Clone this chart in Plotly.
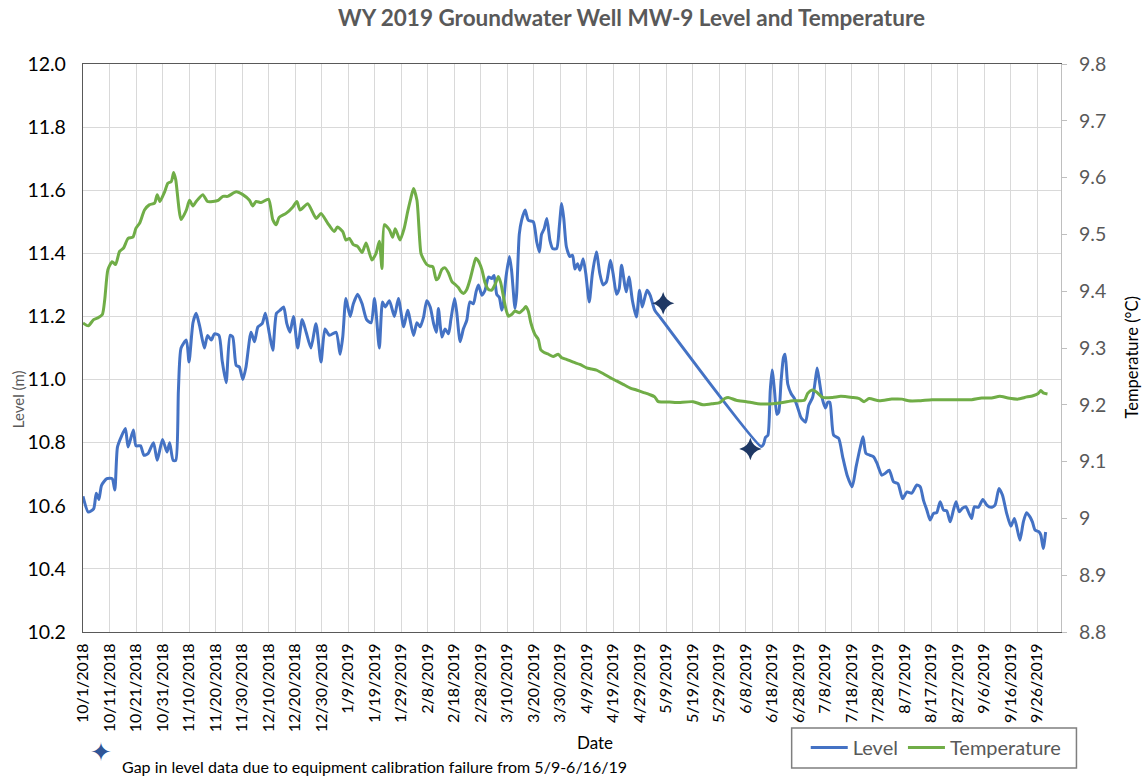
import pandas as pd
import plotly.graph_objects as go

BASE_DATE = "2018-10-01"

# Level (m): days after 10/1/2018 and values
level_days = [0, 2, 4, 5, 6, 7, 9, 11, 12, 13, 14.5, 16, 17, 19, 20, 21.7, 23, 24.5, 26.6, 28,
              30, 31.7, 32.7, 34, 35, 36, 37, 39, 40, 41.5, 42.7, 44, 45.8, 47, 48.4, 49.6, 51.3,
              52.5, 54, 55.5, 56.5, 57.8, 59, 60.3, 61.5, 63.4, 64.7, 66, 67.6, 68.8, 70.3, 71.6,
              73, 74.4, 75.7, 76.9, 78.1, 79.4, 81, 82.7, 84.2, 86, 87.9, 89.8, 91.3, 93, 95.5,
              97, 98, 99.2, 100.8, 102, 103.6, 105.3, 107, 108.7, 110, 111.8, 113, 114, 115.6,
              117.5, 119, 121, 122.5, 124.7, 126, 127.2, 128.5, 129.7, 131, 132.3, 133.3, 134.1,
              135.4, 136.6, 137.9, 138.8, 140.2, 141, 142.3, 143.5, 144.8, 146, 147.3, 148.3,
              149.2, 150.5, 151.7, 153, 154.2, 155.1, 156.1, 157.1, 158, 158.6, 159.6, 160.9,
              161.7, 163, 163.6, 164.6, 165.5, 166.8, 168, 169.9, 171.2, 172.2, 173, 174, 175,
              176.2, 177.2, 178.7, 179.7, 180.6, 181.4, 182.4, 183.7, 184.7, 185.6, 186.6, 187.5,
              188.7, 189.7, 191, 192.2, 193.7, 195, 196.2, 197.5, 199, 200, 201.3, 202.3, 203.2,
              204.4, 205, 206, 207.3, 208.8, 210, 211, 212.8, 214, 215.7, 217.7,
              255.9, 256.8, 257.5, 258.4, 259.3, 260, 260.9, 261.8, 262.5, 263.4, 264.3, 264.9,
              265.9, 267.2, 268.4, 269.7, 270.9, 272.6, 273.8, 275.3, 276.3, 277, 277.8, 278.8,
              280.1, 281, 281.8, 283.2, 285.1, 286.6, 288.3, 290.2, 291.7, 293.3, 294.3, 295.4,
              297, 298.3, 299.6, 301.4, 302.7, 304.2, 305.8, 307.5, 309.2, 310.9, 312.7, 314.6,
              315.9, 317.1, 318.4, 319.6, 320.9, 322.1, 323.4, 324.7, 325.9, 327.2, 328.4, 329.4,
              330.6, 331.8, 333.1, 334.3, 335.3, 336.3, 337.8, 339.5, 341, 342.6, 344.1, 345.6,
              346.9, 348.5, 350.1, 351.4, 352.3, 353.5, 354.8, 356, 357.3, 358.2, 359.2, 360.7,
              361.4, 362.3, 363.2]
level_values = [10.63, 10.58, 10.59, 10.64, 10.62, 10.665, 10.686, 10.686, 10.65, 10.786, 10.82,
                10.845, 10.786, 10.84, 10.79, 10.79, 10.76, 10.765, 10.80, 10.744, 10.81, 10.77,
                10.80, 10.744, 10.744, 10.966, 11.10, 11.125, 11.056, 11.18, 11.21, 11.17, 11.10,
                11.14, 11.125, 11.145, 11.14, 11.06, 10.99, 11.14, 11.135, 11.045, 11.04, 11.00,
                11.04, 11.15, 11.12, 11.167, 11.177, 11.21, 11.146, 11.093, 11.21, 11.22, 11.23,
                11.177, 11.15, 11.20, 11.10, 11.19, 11.15, 11.10, 11.177, 11.056, 11.16, 11.14,
                11.15, 11.08, 11.135, 11.257, 11.20, 11.24, 11.27, 11.24, 11.19, 11.18, 11.257,
                11.10, 11.246, 11.23, 11.25, 11.20, 11.257, 11.167, 11.22, 11.14, 11.18, 11.167,
                11.198, 11.25, 11.23, 11.177, 11.15, 11.225, 11.135, 11.16, 11.145, 11.19, 11.257,
                11.214, 11.12, 11.16, 11.188, 11.246, 11.24, 11.278, 11.30, 11.267, 11.283, 11.325,
                11.32, 11.33, 11.27, 11.26, 11.22, 11.24, 11.325, 11.39, 11.346, 11.225, 11.27,
                11.46, 11.505, 11.537, 11.505, 11.50, 11.436, 11.404, 11.46, 11.478, 11.51, 11.44,
                11.415, 11.415, 11.484, 11.558, 11.51, 11.42, 11.39, 11.394, 11.35, 11.367, 11.346,
                11.383, 11.336, 11.246, 11.336, 11.404, 11.336, 11.30, 11.31, 11.378, 11.336,
                11.27, 11.288, 11.362, 11.30, 11.278, 11.325, 11.25, 11.198, 11.283, 11.23,
                11.283, 11.267, 11.22, 11.198,
                10.788, 10.796, 10.817, 10.823, 10.965, 11.03, 10.965, 10.89, 10.897, 10.997,
                11.07, 11.08, 10.986, 10.955, 10.94, 10.91, 10.88, 10.865, 10.918, 10.944, 10.997,
                11.037, 10.997, 10.944, 10.91, 10.928, 10.928, 10.824, 10.814, 10.756, 10.697,
                10.66, 10.724, 10.787, 10.819, 10.766, 10.76, 10.755, 10.734, 10.697, 10.703,
                10.713, 10.676, 10.67, 10.623, 10.644, 10.64, 10.666, 10.66, 10.618, 10.586,
                10.555, 10.576, 10.578, 10.613, 10.586, 10.584, 10.549, 10.586, 10.613, 10.581,
                10.592, 10.597, 10.576, 10.56, 10.597, 10.595, 10.62, 10.602, 10.595, 10.602,
                10.655, 10.634, 10.576, 10.535, 10.56, 10.533, 10.491, 10.549, 10.578, 10.565,
                10.549, 10.523, 10.517, 10.507, 10.465, 10.517]

# Temperature (deg C)
temp_days = [0, 2, 4, 5.6, 7.3, 8.2, 9.4, 11, 12.3, 13.8, 15.3, 17, 18.8, 20, 21.4, 23.2, 25, 27,
             28, 29, 30.8, 32, 33.3, 34.2, 35, 37, 39, 40.2, 41.5, 42.7, 45.2, 47, 49, 51, 52.8,
             54.6, 57.8, 60.3, 62.8, 64, 65.3, 67.2, 70, 71.6, 72.9, 74, 76.6, 79.1, 80.7, 81.9,
             84.8, 88, 89.8, 92.3, 94.8, 96, 98, 99.2, 100.5, 102, 103.6, 105.3, 106.8, 109,
             110.6, 111.8, 112.8, 113.7, 115.6, 116.8, 117.8, 119.6, 121.2, 122.5, 123.7, 124.7,
             126, 127.5, 128.5, 129.7, 131, 132, 133.3, 134.1, 135.4, 136.6, 137.9, 139.2, 140.4,
             141.7, 142.5, 143.5, 144.8, 146, 147.3, 148.2, 149.2, 150.5, 151.7, 153, 154.2,
             155.5, 156.7, 157.6, 158.6, 159.6, 160.5, 161.7, 163, 164.6, 166.2, 167.1, 168, 169,
             170.5, 171.8, 172.7, 174, 175.6, 177.4, 179.3, 180.6, 182.4, 185, 187.5, 190, 191.9,
             193.7, 196.2, 198.8, 201.3, 203.8, 206.3, 208.8, 211.3, 213.8, 215.7, 216.9, 218.2,
             221.3, 223.9, 230.2, 233.9, 237.7, 240.2, 242.1, 243.4, 246.5, 250.3, 254.6, 260.3,
             264, 267.8, 272.2, 273.4, 275.1, 276.6, 279.1, 282.8, 285.9, 290.3, 292.9, 294.7,
             296.6, 300.4, 305.2, 309, 311.5, 315.2, 320.3, 325.3, 330.3, 335.3, 339.1, 342.8,
             345.9, 349, 352.8, 355.3, 358.4, 360.4, 361.4, 362.3, 363.9]
temp_values = [9.344, 9.339, 9.35, 9.353, 9.359, 9.385, 9.438, 9.452, 9.447, 9.47, 9.476, 9.493,
               9.495, 9.511, 9.52, 9.543, 9.552, 9.555, 9.57, 9.558, 9.575, 9.59, 9.593, 9.609,
               9.596, 9.526, 9.543, 9.56, 9.55, 9.558, 9.57, 9.558, 9.558, 9.56, 9.567, 9.567,
               9.575, 9.57, 9.56, 9.55, 9.558, 9.556, 9.562, 9.526, 9.517, 9.53, 9.537, 9.548,
               9.558, 9.543, 9.554, 9.528, 9.537, 9.52, 9.505, 9.513, 9.505, 9.49, 9.493, 9.482,
               9.479, 9.468, 9.485, 9.455, 9.467, 9.488, 9.44, 9.517, 9.508, 9.495, 9.51, 9.49,
               9.511, 9.54, 9.564, 9.581, 9.56, 9.467, 9.456, 9.447, 9.444, 9.443, 9.420, 9.423,
               9.438, 9.441, 9.432, 9.417, 9.412, 9.406, 9.400, 9.396, 9.403, 9.420, 9.444, 9.458,
               9.453, 9.438, 9.415, 9.403, 9.402, 9.412, 9.426, 9.415, 9.391, 9.368, 9.356, 9.359,
               9.365, 9.362, 9.368, 9.373, 9.365, 9.344, 9.324, 9.315, 9.297, 9.292, 9.289, 9.285,
               9.289, 9.283, 9.280, 9.275, 9.271, 9.265, 9.263, 9.261, 9.255, 9.248, 9.242, 9.236,
               9.230, 9.226, 9.222, 9.218, 9.214, 9.206, 9.205, 9.205, 9.204, 9.2055, 9.200,
               9.202, 9.204, 9.211, 9.213, 9.208, 9.2055, 9.202, 9.202, 9.204, 9.207, 9.208,
               9.220, 9.226, 9.223, 9.213, 9.213, 9.215, 9.213, 9.211, 9.2055, 9.211, 9.207,
               9.21, 9.21, 9.207, 9.207, 9.209, 9.209, 9.209, 9.209, 9.212, 9.212, 9.215, 9.212,
               9.21, 9.213, 9.216, 9.22, 9.225, 9.221, 9.219]

# Gap markers (start / end of missing level data)
gap_days = [218.9, 251.8]
gap_levels = [11.242, 10.78]

# X-axis tick labels (every 10 days)
x_tick_labels = ["10/1/2018", "10/11/2018", "10/21/2018", "10/31/2018", "11/10/2018",
                 "11/20/2018", "11/30/2018", "12/10/2018", "12/20/2018", "12/30/2018",
                 "1/9/2019", "1/19/2019", "1/29/2019", "2/8/2019", "2/18/2019", "2/28/2019",
                 "3/10/2019", "3/20/2019", "3/30/2019", "4/9/2019", "4/19/2019", "4/29/2019",
                 "5/9/2019", "5/19/2019", "5/29/2019", "6/8/2019", "6/18/2019", "6/28/2019",
                 "7/8/2019", "7/18/2019", "7/28/2019", "8/7/2019", "8/17/2019", "8/27/2019",
                 "9/6/2019", "9/16/2019", "9/26/2019"]
left_ticks = [10.2, 10.4, 10.6, 10.8, 11.0, 11.2, 11.4, 11.6, 11.8, 12.0]
right_ticks = [8.8, 8.9, 9.0, 9.1, 9.2, 9.3, 9.4, 9.5, 9.6, 9.7, 9.8]
right_tick_labels = ["8.8", "8.9", "9", "9.1", "9.2", "9.3", "9.4", "9.5", "9.6", "9.7", "9.8"]

base = pd.Timestamp(BASE_DATE)
def to_dates(days):
    return base + pd.to_timedelta(days, unit="D")

level_dates = to_dates(level_days)
temp_dates = to_dates(temp_days)
gap_dates = to_dates(gap_days)
tick_dates = pd.to_datetime(x_tick_labels, format="%m/%d/%Y")

FONT = "Lato, 'Open Sans', sans-serif"
W, H = 1143, 777

fig = go.Figure()
fig.add_trace(go.Scatter(x=level_dates, y=level_values, name="Level", mode="lines",
                         line=dict(color="#4472C4", width=3, shape="spline", smoothing=0.6),
                         yaxis="y"))
fig.add_trace(go.Scatter(x=temp_dates, y=temp_values, name="Temperature", mode="lines",
                         line=dict(color="#70AD47", width=3, shape="spline", smoothing=0.6),
                         yaxis="y2"))
fig.add_trace(go.Scatter(x=gap_dates, y=gap_levels, mode="markers", showlegend=False,
                         marker=dict(symbol="star-diamond", size=16, color="#1F3864",
                                     line=dict(width=0)),
                         yaxis="y"))

fig.update_layout(
    width=W, height=H,
    margin=dict(l=83, r=W - 1061.5, t=64, b=H - 632, autoexpand=False),
    paper_bgcolor="white", plot_bgcolor="white",
    font=dict(family=FONT, color="#000000"),
    title=dict(text="<b>WY 2019 Groundwater Well MW-9 Level and Temperature</b>",
               x=631.5 / W, xref="container", xanchor="center",
               y=1 - 18 / H, yref="container", yanchor="middle",
               font=dict(family=FONT, size=22.5, color="#595959")),
    xaxis=dict(type="date",
               range=[base, base + pd.Timedelta(days=369)],
               tickvals=tick_dates, ticktext=x_tick_labels, tickangle=-90,
               tickfont=dict(size=16, color="#000000"),
               showgrid=True, gridcolor="#D9D9D9", gridwidth=1.3,
               showline=True, linecolor="#595959", linewidth=1.3, mirror=True,
               ticks="", automargin=False, zeroline=False, ticklabelstandoff=4),
    yaxis=dict(range=[10.2, 12.0], tickvals=left_ticks, tickformat=".1f",
               tickfont=dict(size=19.5, color="#000000"),
               showgrid=True, gridcolor="#D9D9D9", gridwidth=1.3,
               showline=True, linecolor="#595959", linewidth=1.3,
               ticks="", zeroline=False, automargin=False, ticklabelstandoff=12),
    yaxis2=dict(range=[8.8, 9.8], overlaying="y", side="right",
                tickvals=right_ticks, ticktext=right_tick_labels,
                tickfont=dict(size=19.5, color="#595959"),
                showgrid=False, showline=True, linecolor="#BFBFBF", linewidth=1.3,
                ticks="outside", ticklen=5, tickcolor="#BFBFBF", tickwidth=1.3,
                zeroline=False, automargin=False, ticklabelstandoff=8),
    legend=dict(orientation="h", x=0.739, y=-0.169, xanchor="left", yanchor="top",
                borderwidth=0, bgcolor="rgba(0,0,0,0)",
                font=dict(family=FONT, size=20, color="#595959"),
                itemwidth=37, tracegroupgap=0),
    showlegend=True,
)

# legend frame
fig.add_shape(type="rect", xref="paper", yref="paper",
              x0=0.7246, x1=1.0158, y0=-0.2394, y1=-0.169,
              line=dict(color="#7F7F7F", width=1.5), fillcolor="rgba(0,0,0,0)", layer="above")

fig.add_annotation(text="Level (m)", xref="paper", yref="paper", x=-0.0664, y=0.41,
                   textangle=-90, showarrow=False, xanchor="center", yanchor="middle",
                   font=dict(family=FONT, size=15, color="#595959"))
fig.add_annotation(text="Temperature (°C)", xref="paper", yref="paper", x=1.073, y=0.484,
                   textangle=-90, showarrow=False, xanchor="center", yanchor="middle",
                   font=dict(family=FONT, size=16.5, color="#000000"))
fig.add_annotation(text="Date", xref="paper", yref="paper", x=0.524, y=-0.1937,
                   showarrow=False, xanchor="center", yanchor="middle",
                   font=dict(family=FONT, size=17, color="#000000"))
fig.add_annotation(text="✦", xref="paper", yref="paper", x=0.0184, y=-0.211,
                   showarrow=False, xanchor="center", yanchor="middle",
                   font=dict(family="DejaVu Sans", size=26, color="#2F5597"))
fig.add_annotation(text="Gap in level data due to equipment calibration failure from 5/9-6/16/19",
                   xref="paper", yref="paper", x=0.0378, y=-0.236,
                   showarrow=False, xanchor="left", yanchor="middle",
                   font=dict(family=FONT, size=16, color="#000000"))

fig.write_html("out.html",
               config={"displayModeBar": False},
               post_script="document.body.style.margin='0';document.body.style.overflow='hidden';")
